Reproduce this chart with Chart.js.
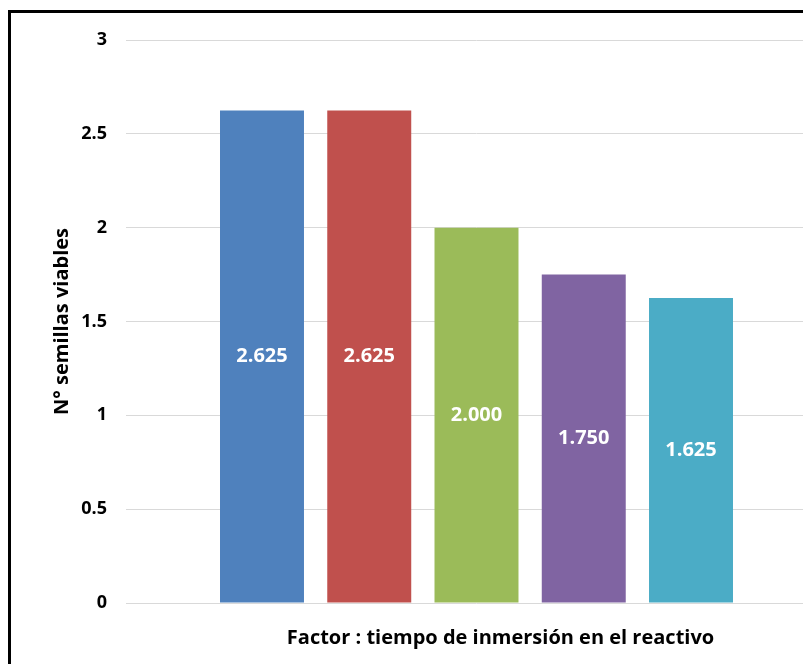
<!DOCTYPE html>
<html>
<head>
<meta charset="utf-8">
<script src="https://cdn.jsdelivr.net/npm/chart.js@4/dist/chart.umd.min.js"></script>
<style>
  html, body { margin: 0; padding: 0; background: #fff; overflow: hidden; width: 803px; height: 664px; }
  #frame { position: absolute; left: 8px; top: 10px; width: 900px; height: 800px; border: 3px solid #000; box-sizing: border-box; }
  #wrap { position: absolute; left: 0; top: 0; width: 840px; height: 664px; }
</style>
</head>
<body>
<div id="frame"></div>
<div id="wrap"><canvas id="c" width="840" height="664"></canvas></div>
<script>
// Viable seeds per immersion-time level
const categories = [''];
const seriesNames = ['T1', 'T2', 'T3', 'T4', 'T5'];
const seriesValues = [2.625, 2.625, 2.000, 1.750, 1.625];
const seriesColors = ['#4f81bd', '#c0504d', '#9bbb59', '#8064a2', '#4bacc6'];
const yTicks = [0, 0.5, 1, 1.5, 2, 2.5, 3];
const yTitle = 'N° semillas viables';
const xTitle = 'Factor : tiempo de inmersión en el reactivo';

const FONT = '"Open Sans", Lato, sans-serif';

// White value labels centred inside each bar, plus the axis caption under the plot
const barLabels = {
  id: 'barLabels',
  afterDatasetsDraw(chart) {
    const ctx = chart.ctx;
    ctx.save();
    ctx.fillStyle = '#ffffff';
    ctx.font = 'bold 20px ' + FONT;
    ctx.textAlign = 'center';
    ctx.textBaseline = 'middle';
    chart.data.datasets.forEach((ds, i) => {
      const meta = chart.getDatasetMeta(i);
      meta.data.forEach((bar, j) => {
        const v = ds.data[j];
        ctx.fillText(v.toFixed(3), bar.x, (bar.y + bar.base) / 2);
      });
    });
    const area = chart.chartArea;
    ctx.fillStyle = '#000000';
    ctx.font = 'bold 20px ' + FONT;
    ctx.textBaseline = 'middle';
    ctx.fillText(xTitle, (area.left + area.right) / 2 + 24, area.bottom + 35);
    ctx.restore();
  }
};

new Chart(document.getElementById('c'), {
  type: 'bar',
  data: {
    labels: categories,
    datasets: seriesNames.map((name, i) => ({
      label: name,
      data: [seriesValues[i]],
      backgroundColor: seriesColors[i],
      borderWidth: 0
    }))
  },
  options: {
    responsive: false,
    animation: false,
    layout: { padding: { top: 40, right: 13, bottom: 61, left: 0 } },
    plugins: { legend: { display: false }, tooltip: { enabled: false } },
    datasets: { bar: { categoryPercentage: 0.765, barPercentage: 0.783 } },
    scales: {
      x: { display: false },
      y: {
        min: 0, max: 3,
        afterFit(scale) { scale.width = 126; },
        afterBuildTicks(scale) { scale.ticks = yTicks.map(v => ({ value: v })); },
        grid: { color: '#d9d9d9', lineWidth: 1, drawTicks: false },
        border: { display: false },
        ticks: {
          padding: 19,
          color: '#000',
          font: { family: FONT, size: 18, weight: 'bold' },
          callback: v => String(v)
        },
        title: {
          display: true,
          text: yTitle,
          color: '#000',
          font: { family: FONT, size: 20, weight: 'bold' },
          padding: { top: 50, bottom: 0 }
        }
      }
    }
  },
  plugins: [barLabels]
});
</script>
</body>
</html>
